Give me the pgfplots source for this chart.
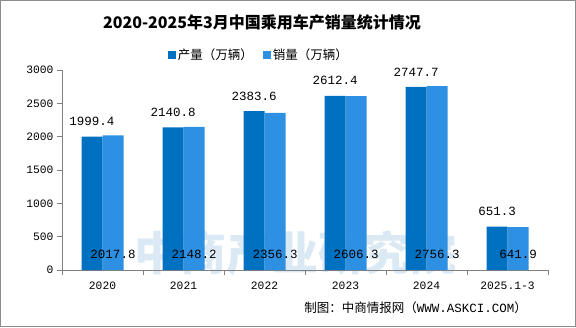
\documentclass[border=0pt]{standalone}
\usepackage{fontspec}
\setmainfont{Noto Sans CJK SC}
\newfontfamily\numfont{Liberation Mono}
\usepackage{pgfplots}
\pgfplotsset{compat=1.18}
\definecolor{darkb}{RGB}{0,112,192}
\definecolor{lightb}{RGB}{46,144,226}
\definecolor{wm}{RGB}{218,233,243}
\begin{document}
\begin{tikzpicture}[x=1bp,y=1bp]
\draw[color=gray!90, line width=1bp] (0.5,0.5) rectangle (575.5,326.5);
\node[font=\fontsize{16bp}{18bp}\selectfont\bfseries] at (262,305) {2020-2025年3月中国乘用车产销量统计情况};
\node[text=wm, font=\fontsize{46bp}{48bp}\selectfont\bfseries] at (295,74) {中商产业研究院};
\node[anchor=east, font=\fontsize{12.5bp}{14bp}\selectfont, inner sep=0pt] at (527,19) {制图：中商情报网（\numfont WWW.ASKCI.COM\rmfamily）};
\begin{axis}[
  at={(62bp,57bp)}, anchor=south west,
  scale only axis, width=486bp, height=200bp,
  xmin=-0.5, xmax=5.5, ymin=0, ymax=3000,
  axis x line*=bottom, axis y line*=left,
  axis line style={gray, line width=0.8bp},
  ytick={0,500,...,3000},
  xtick={0,...,5},
  xticklabels={2020,2021,2022,2023,2024,2025.1-3},
  minor xtick={-0.5,0.5,...,5.5},
  major x tick style={draw=none},
  minor x tick style={gray, line width=0.8bp},
  y tick style={gray, line width=0.8bp},
  tick align=outside,
  major tick length=5bp, minor tick length=5bp,
  /pgf/number format/assume math mode=true,
  /pgf/number format/1000 sep={},
  tick label style={font=\fontsize{11.3bp}{12bp}\selectfont\numfont},
  xticklabel style={yshift=-3bp},
  legend columns=2,
  legend style={at={(0.405,1.075)}, anchor=center, draw=none, fill=none,
    font=\fontsize{12.5bp}{14bp}\selectfont,
    /tikz/every even column/.append style={column sep=8bp}},
  legend image code/.code={\fill[#1] (0bp,-4bp) rectangle (8bp,4bp);},
]
\addplot[ybar, bar width=21bp, bar shift=-10.5bp, fill=darkb, draw=none,
  point meta=explicit symbolic, nodes near coords,
  every node near coord/.style={anchor=center, xshift=-10.5bp, yshift=15bp, text=black, font=\fontsize{12.5bp}{14bp}\selectfont\numfont}]
  coordinates {(0,1999.4)[1999.4] (1,2140.8)[2140.8] (2,2383.6)[2383.6] (3,2612.4)[2612.4] (4,2747.7)[2747.7] (5,651.3)[651.3]};
\addplot[ybar, bar width=21bp, bar shift=10.5bp, fill=lightb, draw=none]
  coordinates {(0,2017.8) (1,2148.2) (2,2356.3) (3,2606.3) (4,2756.3) (5,641.9)};
\legend{产量（万辆）,销量（万辆）}
\addplot[only marks, mark=none, forget plot,
  point meta=explicit symbolic, nodes near coords,
  every node near coord/.style={anchor=center, xshift=10.5bp, text=black, font=\fontsize{12.5bp}{14bp}\selectfont\numfont}]
  coordinates {(0,240)[2017.8] (1,240)[2148.2] (2,240)[2356.3] (3,240)[2606.3] (4,240)[2756.3] (5,240)[641.9]};
\end{axis}
\end{tikzpicture}
\end{document}
